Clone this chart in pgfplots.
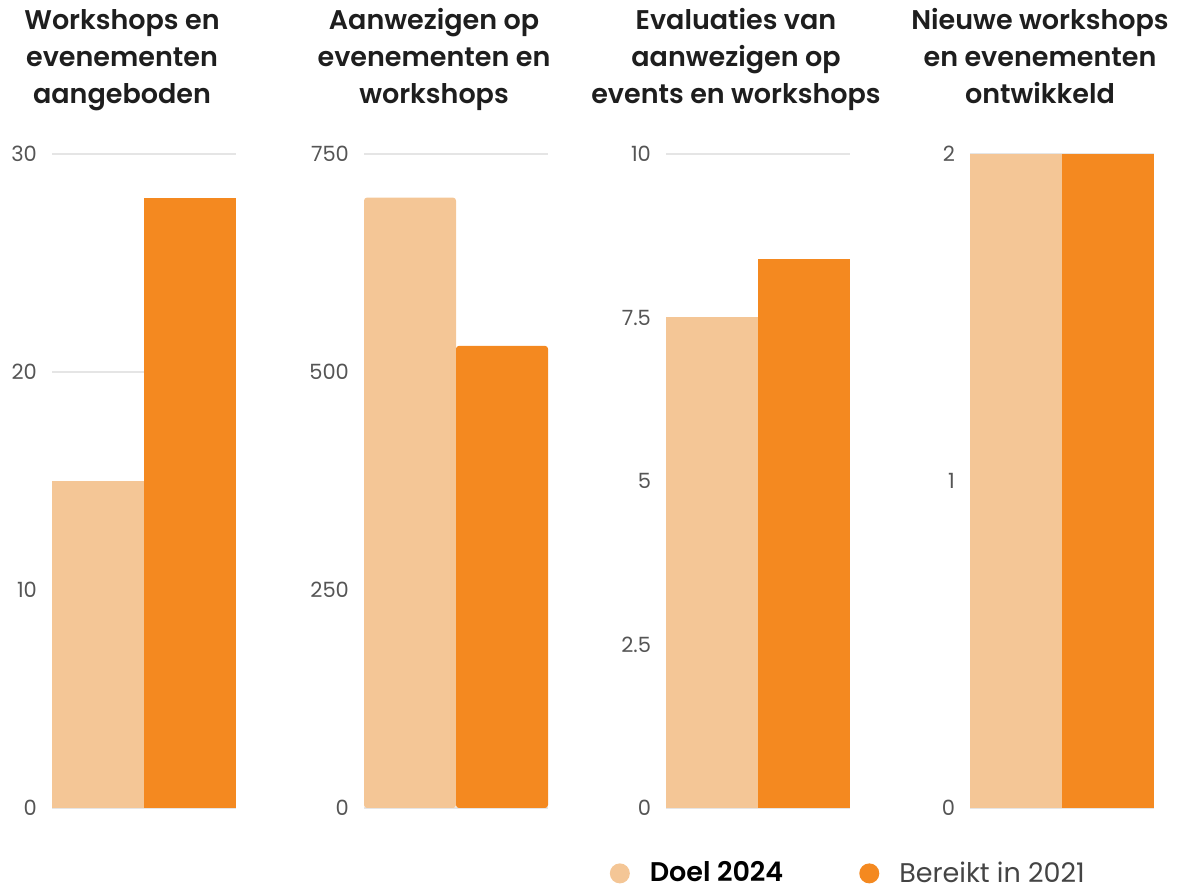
\documentclass[border=0pt]{standalone}
\usepackage{fontspec}
\setmainfont{Poppins}[BoldFont={Poppins SemiBold}]
\usepackage{pgfplots}
\pgfplotsset{compat=1.18}
\definecolor{doel}{RGB}{244,198,150}
\definecolor{bereikt}{RGB}{244,137,32}
\definecolor{titel}{RGB}{30,30,30}
\definecolor{tick}{RGB}{85,85,85}

\pgfplotsset{
  panel/.style={
    scale only axis, width=92pt, height=327pt,
    anchor=south west,
    xmin=-0.5, xmax=1.5, ymin=0,
    ybar, bar width=1, bar shift=0pt,
    xtick=\empty,
    axis line style={draw=none},
    major tick length=0pt,
    ymajorgrids, grid style={draw=black!10, line width=0.7pt},
    /pgf/number format/assume math mode=true,
    yticklabel style={font=\fontsize{10.5}{12}\selectfont, text=tick, xshift=-4pt},
    title style={at={(0.5,1)}, anchor=south, yshift=10pt, xshift=-11pt,
      align=center, text=titel,
      font=\fontsize{13.5}{18.5}\selectfont\bfseries},
  },
  doelbar/.style={draw=none, fill=doel},
  bereiktbar/.style={draw=none, fill=bereikt},
}

\begin{document}
\begin{tikzpicture}
\path (0,0) rectangle (592pt,445.5pt);

\begin{axis}[panel, at={(26pt,41.5pt)}, ymax=30, ytick={0,10,20,30},
  title={Workshops en\\evenementen\\aangeboden\strut}]
\addplot[doelbar] coordinates {(0,15)};
\addplot[bereiktbar] coordinates {(1,28)};
\end{axis}

\begin{axis}[panel, at={(182pt,41.5pt)}, ymax=750, ytick={0,250,500,750},
  title={Aanwezigen op\\evenementen en\\workshops\strut}]
\addplot[doelbar, rounded corners=1.5pt] coordinates {(0,700)};
\addplot[bereiktbar, rounded corners=1.5pt] coordinates {(1,530)};
\end{axis}

\begin{axis}[panel, at={(333pt,41.5pt)}, ymax=10, ytick={0,2.5,5,7.5,10},
  title={Evaluaties van\\aanwezigen op\\events en workshops\strut},
  legend style={at={(-0.34,-0.10)}, anchor=west, draw=none, fill=none,
    legend columns=2, font=\fontsize{13.5}{15}\selectfont,
    /tikz/every even column/.append style={column sep=36pt}},
  legend image code/.code={\fill[#1] (0pt,0pt) circle (5pt); \path (13pt,0pt);}]
\addplot[doelbar] coordinates {(0,7.5)};
\addplot[bereiktbar] coordinates {(1,8.4)};
\addlegendentry{\textbf{Doel 2024}}
\addlegendentry{\textcolor{tick!80!black}{Bereikt in 2021}}
\end{axis}

\begin{axis}[panel, at={(485pt,41.5pt)}, ymax=2, ytick={0,1,2},
  title={Nieuwe workshops\\en evenementen\\ontwikkeld\strut}]
\addplot[doelbar] coordinates {(0,2)};
\addplot[bereiktbar] coordinates {(1,2)};
\end{axis}
\end{tikzpicture}
\end{document}
